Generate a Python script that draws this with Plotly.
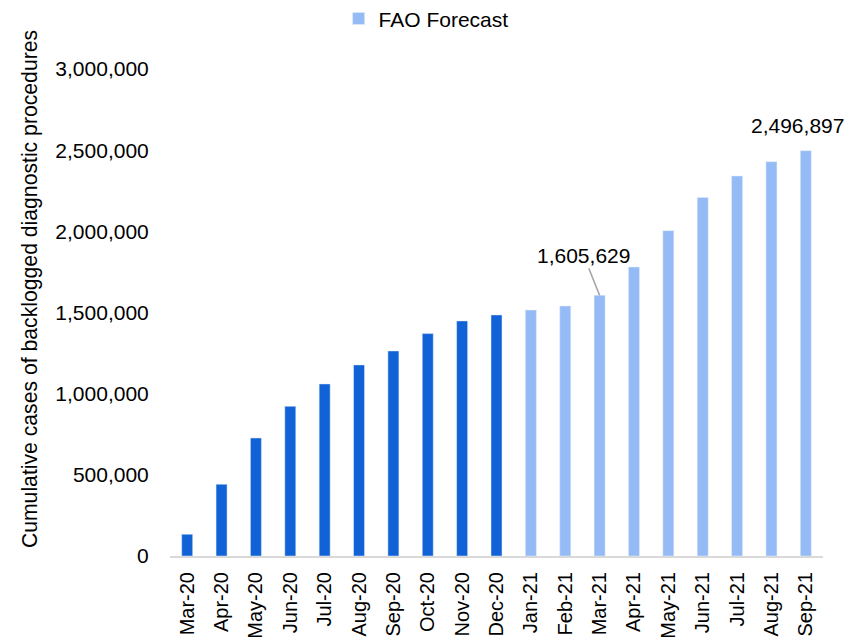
import plotly.graph_objects as go

categories = ["Mar-20", "Apr-20", "May-20", "Jun-20", "Jul-20", "Aug-20", "Sep-20",
              "Oct-20", "Nov-20", "Dec-20", "Jan-21", "Feb-21", "Mar-21", "Apr-21",
              "May-21", "Jun-21", "Jul-21", "Aug-21", "Sep-21"]
actual = [134000, 442000, 727000, 922000, 1060000, 1177000, 1263000, 1370000,
          1448000, 1485000, None, None, None, None, None, None, None, None, None]
forecast = [None, None, None, None, None, None, None, None, None, None,
            1515000, 1540000, 1605629, 1780000, 2004000, 2209000, 2341000, 2429000, 2496897]
y_ticks = [0, 500000, 1000000, 1500000, 2000000, 2500000, 3000000]
y_title = "Cumulative cases of backlogged diagnostic procedures"

FONT = "Liberation Sans, Arial, sans-serif"
DARK = "#1162D6"
LIGHT = "#95BBF7"

fig = go.Figure()
fig.add_trace(go.Bar(x=categories, y=actual, name="Actual", marker_color=DARK,
                     width=0.32, showlegend=False))
fig.add_trace(go.Bar(x=categories, y=forecast, name="FAO Forecast", marker_color=LIGHT,
                     width=0.32))

fig.add_annotation(x="Mar-21", y=1605629, text="1,605,629", showarrow=True,
                   arrowhead=0, arrowwidth=1.5, arrowcolor="#A6A6A6",
                   ax=-16, ay=-40, font=dict(size=21, color="#000"))
fig.add_annotation(x="Sep-21", y=2496897, text="2,496,897", showarrow=False,
                   yanchor="bottom", yshift=12, xshift=-8,
                   font=dict(size=21, color="#000"))
# y-axis title (placed as in the reference, slightly above the plot centre)
fig.add_annotation(text=y_title, textangle=-90, xref="paper", yref="paper",
                   x=-0.2144, y=0.548, xanchor="center", yanchor="middle",
                   showarrow=False, font=dict(size=21.2, color="#000"))

fig.update_layout(
    width=855, height=640,
    margin=dict(l=162, r=40, t=61, b=92, autoexpand=False),
    paper_bgcolor="white", plot_bgcolor="white",
    barmode="overlay",
    font=dict(family=FONT, size=20, color="#000"),
    legend=dict(orientation="h", x=0.489, xref="container", xanchor="center",
                y=0.983, yref="container", yanchor="middle",
                font=dict(size=21), itemwidth=30,
                bgcolor="rgba(0,0,0,0)"),
    xaxis=dict(range=[-0.5, 18.5], showline=True, linecolor="#D9D9D9", linewidth=2,
               tickangle=-90, ticks="outside", ticklen=6, tickcolor="rgba(0,0,0,0)",
               tickfont=dict(size=20), showgrid=False, automargin=False),
    yaxis=dict(range=[0, 3000000], tickvals=y_ticks, tickformat=",d",
               showgrid=False, zeroline=False, showline=False,
               ticks="outside", ticklen=16, tickcolor="rgba(0,0,0,0)",
               tickfont=dict(size=21), automargin=False),
)

fig.write_html("out.html")
